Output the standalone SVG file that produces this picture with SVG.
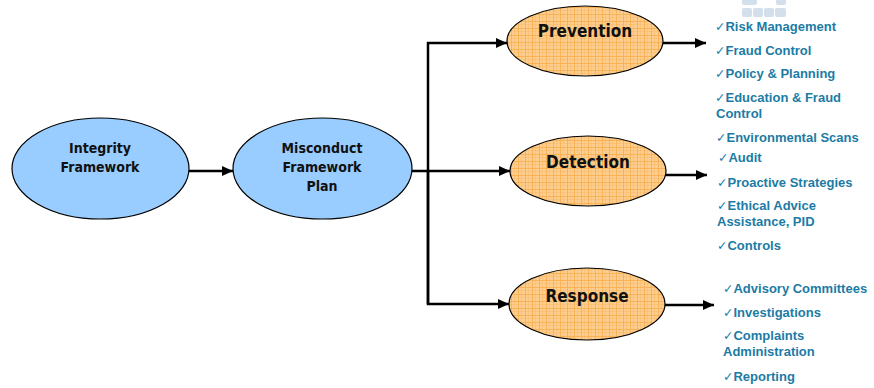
<svg xmlns="http://www.w3.org/2000/svg" width="874" height="388" viewBox="0 0 874 388">
<style>
.blue{fill:#99CCFF;stroke:#000;stroke-width:1.2}
.orange{fill:url(#grid);stroke:#000;stroke-width:1.2}
.lbl{font-family:"DejaVu Sans Condensed","DejaVu Sans",sans-serif;font-stretch:condensed;font-weight:bold;fill:#111;text-anchor:middle}
.s14{font-size:14px}
.s17{font-size:17px}
.item{font-family:"Liberation Sans",Arial,sans-serif;font-weight:bold;font-size:13px;fill:#1C7BA5}
.chk{font-family:"DejaVu Sans",sans-serif;font-size:12.5px;font-weight:normal}
.conn{stroke:#000;stroke-width:2.5;fill:none}
.deco{fill:#D3E0EB}
</style>
<defs>
<pattern id="grid" width="7" height="7" patternUnits="userSpaceOnUse">
<rect width="7" height="7" fill="#FCCD8E"/>
<path d="M0 3.5H7M3.5 0V7" stroke="#FBBA6A" stroke-width="0.5"/>
<path d="M0 0.4H7M0.4 0V7" stroke="#F8A842" stroke-width="0.8"/>
</pattern>
<marker id="ah" markerUnits="userSpaceOnUse" markerWidth="12" markerHeight="10" refX="11" refY="5" orient="auto">
<path d="M0 0L11 5L0 10Z" fill="#000"/>
</marker>
</defs>
<g id="deco">
<rect class="deco" x="742" y="-4" width="15" height="9" rx="2"/>
<rect class="deco" x="776" y="-4" width="10" height="9" rx="2"/>
<rect class="deco" x="742" y="8" width="10" height="9" rx="2"/>
<rect class="deco" x="753" y="8" width="10" height="9" rx="2"/>
<rect class="deco" x="764" y="8" width="10" height="9" rx="2"/>
<rect class="deco" x="775" y="8" width="11" height="9" rx="2"/>
</g>
<g id="connectors">
<path class="conn" d="M189 171H233" marker-end="url(#ah)"/>
<path class="conn" d="M412 171H510" marker-end="url(#ah)"/>
<path class="conn" d="M428 304V43H507" marker-end="url(#ah)"/>
<path class="conn" d="M428 171V304H509" marker-end="url(#ah)"/>
<path class="conn" d="M663 43H706" marker-end="url(#ah)"/>
<path class="conn" d="M666 175H707" marker-end="url(#ah)"/>
<path class="conn" d="M665 305H714" marker-end="url(#ah)"/>
</g>
<g id="integrity">
<ellipse class="blue" cx="100.5" cy="168.5" rx="88.5" ry="50.5"/>
<text class="lbl s14" x="100" y="153">Integrity</text>
<text class="lbl s14" x="100" y="172">Framework</text>
</g>
<g id="misconduct">
<ellipse class="blue" cx="322.5" cy="168.5" rx="89.5" ry="50.5"/>
<text class="lbl s14" x="322" y="153">Misconduct</text>
<text class="lbl s14" x="322" y="172">Framework</text>
<text class="lbl s14" x="322" y="191">Plan</text>
</g>
<g id="prevention">
<ellipse class="orange" cx="585" cy="41" rx="78" ry="35"/>
<text class="lbl s17" x="585" y="37">Prevention</text>
</g>
<g id="detection">
<ellipse class="orange" cx="588" cy="171" rx="78" ry="35"/>
<text class="lbl s17" x="588" y="168">Detection</text>
</g>
<g id="response">
<ellipse class="orange" cx="587" cy="304" rx="78" ry="36"/>
<text class="lbl s17" x="587" y="302">Response</text>
</g>
<g id="prevention-items">
<text class="item" x="715" y="31"><tspan class="chk">✓</tspan>Risk Management</text>
<text class="item" x="715" y="55"><tspan class="chk">✓</tspan>Fraud Control</text>
<text class="item" x="715" y="78"><tspan class="chk">✓</tspan>Policy &amp; Planning</text>
<text class="item" x="715" y="102"><tspan class="chk">✓</tspan>Education &amp; Fraud</text>
<text class="item" x="716" y="118">Control</text>
</g>
<g id="detection-items">
<text class="item" x="716" y="142"><tspan class="chk">✓</tspan>Environmental Scans</text>
<text class="item" x="718" y="162"><tspan class="chk">✓</tspan>Audit</text>
<text class="item" x="717" y="187"><tspan class="chk">✓</tspan>Proactive Strategies</text>
<text class="item" x="717" y="210"><tspan class="chk">✓</tspan>Ethical Advice</text>
<text class="item" x="717" y="226">Assistance, PID</text>
<text class="item" x="717" y="250"><tspan class="chk">✓</tspan>Controls</text>
</g>
<g id="response-items">
<text class="item" x="723" y="293"><tspan class="chk">✓</tspan>Advisory Committees</text>
<text class="item" x="723" y="317"><tspan class="chk">✓</tspan>Investigations</text>
<text class="item" x="723" y="340"><tspan class="chk">✓</tspan>Complaints</text>
<text class="item" x="723" y="356">Administration</text>
<text class="item" x="723" y="381"><tspan class="chk">✓</tspan>Reporting</text>
</g>
</svg>
